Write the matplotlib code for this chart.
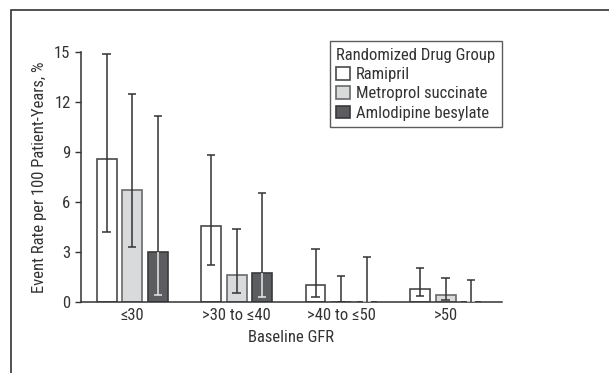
import matplotlib
matplotlib.use('Agg')
import matplotlib.pyplot as plt
import numpy as np
from matplotlib.patches import Rectangle

plt.rcParams['font.family'] = ['Roboto Condensed', 'Archivo Narrow', 'DejaVu Sans']

groups = ['≤30', '>30 to ≤40', '>40 to ≤50', '>50']
drugs = ['Ramipril', 'Metroprol succinate', 'Amlodipine besylate']

ramipril = [8.6, 4.55, 1.0, 0.8]
ramipril_lo = [4.2, 2.2, 0.3, 0.35]
ramipril_hi = [14.9, 8.8, 3.2, 2.05]

metoprolol = [6.7, 1.6, 0.0, 0.4]
metoprolol_lo = [3.3, 0.55, 0.0, 0.15]
metoprolol_hi = [12.5, 4.4, 1.55, 1.42]

amlodipine = [3.0, 1.75, 0.0, 0.0]
amlodipine_lo = [0.45, 0.3, 0.0, 0.0]
amlodipine_hi = [11.15, 6.55, 2.72, 1.32]

fills = ['white', '#d9dadc', '#5c5d60']
edges = ['#4a4a4a', '#6a6a6a', '#3a3a3a']
FS = 12

fig = plt.figure(figsize=(6.09, 3.73), dpi=100)
fig.patches.append(Rectangle((11 / 609, -0.1), 1.2, 1.1 - 10 / 373,
                             transform=fig.transFigure, fill=False,
                             edgecolor='#333333', linewidth=1.2))
ax = fig.add_axes([81 / 609, 1 - 302 / 373, 421 / 609, 250 / 373])

x = np.arange(len(groups))
width = 0.19
offset = 0.245
cap = 0.04
series = [(ramipril, ramipril_lo, ramipril_hi),
          (metoprolol, metoprolol_lo, metoprolol_hi),
          (amlodipine, amlodipine_lo, amlodipine_hi)]

for i, (vals, lo, hi) in enumerate(series):
    xs = x + (i - 1) * offset
    ax.bar(xs, vals, width, color=fills[i], edgecolor=edges[i],
           linewidth=1.2, label=drugs[i], zorder=2)
    vals = np.array(vals)
    lo = np.array(lo)
    hi = np.array(hi)
    if i == 2:
        # inside dark bars the whisker is drawn light
        ax.vlines(xs, lo, vals, color='#e8e8e8', linewidth=1.1, zorder=3)
        ax.hlines(lo, xs - cap, xs + cap, color='#e8e8e8', linewidth=1.1, zorder=3)
        ax.vlines(xs, vals, hi, color='#333333', linewidth=1.1, zorder=3)
    else:
        ax.vlines(xs, lo, hi, color='#333333', linewidth=1.1, zorder=3)
        ax.hlines(lo, xs - cap, xs + cap, color='#333333', linewidth=1.1, zorder=3)
    ax.hlines(hi, xs - cap, xs + cap, color='#333333', linewidth=1.1, zorder=3)

ax.set_xlim(-0.49, 3.54)
ax.set_ylim(0, 15)
ax.set_yticks([0, 3, 6, 9, 12, 15])
ax.set_xticks(x)
ax.set_xticklabels(groups)
ax.tick_params(axis='x', length=0, labelsize=FS, colors='#333333', pad=4)
ax.tick_params(axis='y', length=4, labelsize=FS, colors='#333333', width=1)
for s in ['top', 'right']:
    ax.spines[s].set_visible(False)
for s in ['left', 'bottom']:
    ax.spines[s].set_color('#333333')
    ax.spines[s].set_linewidth(1.1)

ax.set_xlabel('Baseline GFR', fontsize=FS, color='#333333', labelpad=5)
ax.set_ylabel('Event Rate per 100 Patient-Years, %', fontsize=FS,
              color='#333333', labelpad=5)

leg = ax.legend(title='Randomized Drug Group', loc='upper right',
                bbox_to_anchor=(502 / 609, 1 - 41 / 373),
                bbox_transform=fig.transFigure, fontsize=FS,
                title_fontsize=FS, alignment='left', frameon=True,
                fancybox=False, edgecolor='#333333', handlelength=0.8,
                handleheight=0.8, handletextpad=0.4, labelspacing=0.25,
                borderpad=0.4, borderaxespad=0)
leg.get_frame().set_linewidth(1.0)
for t in leg.get_texts():
    t.set_color('#333333')
leg.get_title().set_color('#333333')

fig.savefig('out.png', dpi=100)
